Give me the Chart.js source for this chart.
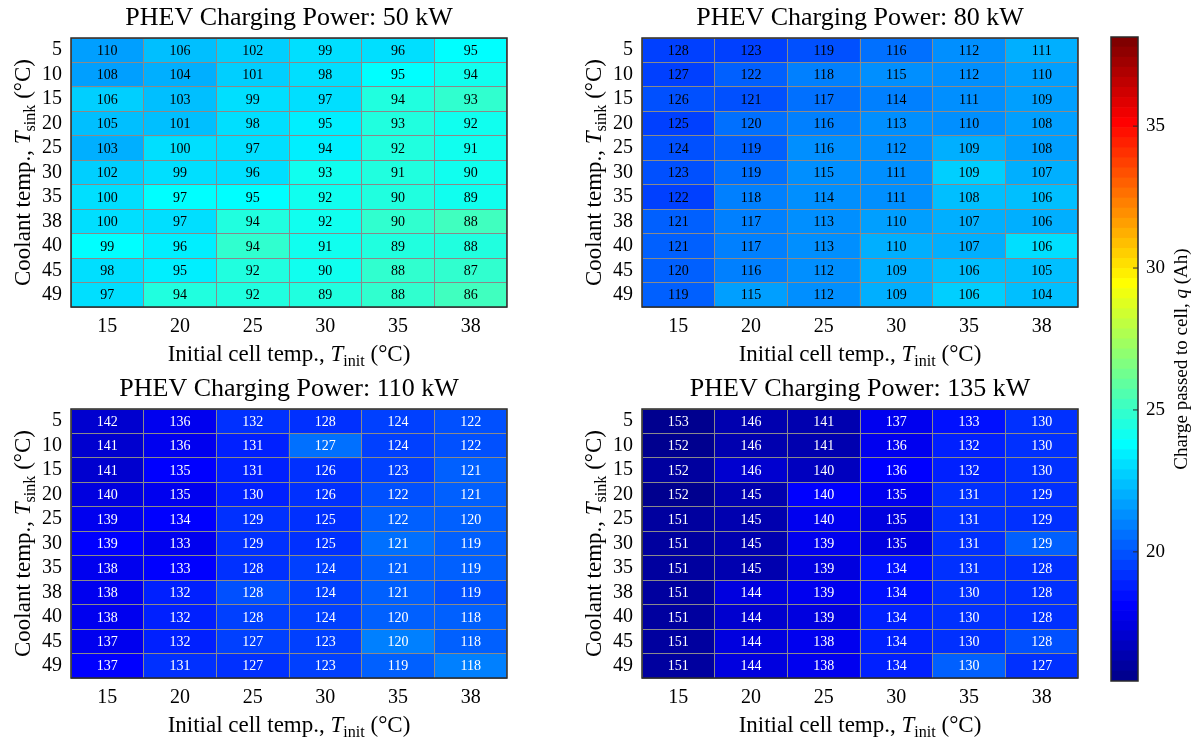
<!DOCTYPE html>
<html>
<head>
<meta charset="utf-8">
<script src="https://cdn.jsdelivr.net/npm/chart.js@4"></script>
<style>
  body { margin: 0; background: #fff; }
  #wrap { position: relative; width: 1199px; height: 739px; }
  #wrap canvas { position: absolute; left: 0; top: 0; }
</style>
</head>
<body>
<div id="wrap">
  <canvas id="c50" width="1199" height="739"></canvas>
  <canvas id="c80" width="1199" height="739"></canvas>
  <canvas id="c110" width="1199" height="739"></canvas>
  <canvas id="c135" width="1199" height="739"></canvas>
  <canvas id="cbar" width="1199" height="739"></canvas>
</div>
<script>
// axes
const initTemps = ['15', '20', '25', '30', '35', '38'];
const sinkTemps = ['5', '10', '15', '20', '25', '30', '35', '38', '40', '45', '49'];

// numbers printed in the cells
const num50 = [
  [110, 106, 102, 99, 96, 95], [108, 104, 101, 98, 95, 94], [106, 103, 99, 97, 94, 93],
  [105, 101, 98, 95, 93, 92], [103, 100, 97, 94, 92, 91], [102, 99, 96, 93, 91, 90],
  [100, 97, 95, 92, 90, 89], [100, 97, 94, 92, 90, 88], [99, 96, 94, 91, 89, 88],
  [98, 95, 92, 90, 88, 87], [97, 94, 92, 89, 88, 86]
];
const num80 = [
  [128, 123, 119, 116, 112, 111], [127, 122, 118, 115, 112, 110], [126, 121, 117, 114, 111, 109],
  [125, 120, 116, 113, 110, 108], [124, 119, 116, 112, 109, 108], [123, 119, 115, 111, 109, 107],
  [122, 118, 114, 111, 108, 106], [121, 117, 113, 110, 107, 106], [121, 117, 113, 110, 107, 106],
  [120, 116, 112, 109, 106, 105], [119, 115, 112, 109, 106, 104]
];
const num110 = [
  [142, 136, 132, 128, 124, 122], [141, 136, 131, 127, 124, 122], [141, 135, 131, 126, 123, 121],
  [140, 135, 130, 126, 122, 121], [139, 134, 129, 125, 122, 120], [139, 133, 129, 125, 121, 119],
  [138, 133, 128, 124, 121, 119], [138, 132, 128, 124, 121, 119], [138, 132, 128, 124, 120, 118],
  [137, 132, 127, 123, 120, 118], [137, 131, 127, 123, 119, 118]
];
const num135 = [
  [153, 146, 141, 137, 133, 130], [152, 146, 141, 136, 132, 130], [152, 146, 140, 136, 132, 130],
  [152, 145, 140, 135, 131, 129], [151, 145, 140, 135, 131, 129], [151, 145, 139, 135, 131, 129],
  [151, 145, 139, 134, 131, 128], [151, 144, 139, 134, 130, 128], [151, 144, 139, 134, 130, 128],
  [151, 144, 138, 134, 130, 128], [151, 144, 138, 134, 130, 127]
];

// charge passed to cell q (Ah), this is what the colour shows
const q50 = [
  [21.6, 22.5, 22.8, 22.9, 23.2, 23.8], [21.5, 22.1, 22.6, 22.9, 23.7, 24.2],
  [22.6, 22.2, 22.9, 23.1, 24.4, 24.9], [22.4, 22.2, 22.9, 23.4, 24.4, 24.3],
  [21.9, 23.0, 23.1, 23.4, 24.4, 24.1], [22.7, 23.0, 22.9, 24.3, 24.4, 24.3],
  [23.0, 23.7, 23.8, 24.3, 24.4, 24.3], [22.9, 22.9, 24.4, 24.3, 24.9, 25.1],
  [23.7, 23.3, 24.7, 24.2, 24.5, 24.5], [23.0, 23.5, 24.4, 24.3, 24.8, 24.8],
  [23.1, 24.4, 24.5, 24.4, 24.8, 25.1]
];
const q80 = [
  [19.4, 19.7, 19.9, 20.6, 21.2, 22.0], [19.5, 20.1, 21.0, 21.3, 21.4, 21.8],
  [19.9, 20.0, 20.7, 20.9, 21.2, 21.8], [19.6, 20.5, 20.8, 21.2, 21.4, 21.8],
  [19.9, 20.3, 21.3, 21.2, 21.9, 21.8], [19.9, 20.5, 21.2, 21.4, 22.6, 21.9],
  [19.7, 21.0, 21.2, 21.4, 22.2, 22.3], [20.3, 21.0, 21.2, 21.8, 22.1, 22.1],
  [20.4, 20.9, 21.2, 21.9, 22.0, 22.9], [20.4, 20.9, 21.2, 21.9, 22.3, 22.4],
  [20.1, 21.5, 21.2, 22.0, 22.7, 22.4]
];
const q110 = [
  [17.2, 17.7, 19.0, 19.2, 19.5, 19.9], [17.2, 17.9, 18.8, 20.6, 19.6, 20.0],
  [17.2, 18.0, 18.8, 19.2, 19.7, 20.1], [17.5, 17.9, 18.7, 19.1, 19.9, 20.4],
  [17.6, 18.0, 19.0, 19.3, 20.2, 20.3], [18.1, 17.8, 19.1, 19.3, 20.5, 20.3],
  [17.7, 18.1, 19.3, 19.5, 20.3, 20.2], [17.9, 18.8, 19.9, 19.5, 20.2, 20.0],
  [17.6, 18.7, 19.4, 19.5, 20.3, 20.3], [17.8, 18.7, 19.5, 19.6, 20.9, 20.4],
  [18.1, 19.1, 19.3, 19.5, 20.4, 20.8]
];
const q135 = [
  [15.6, 16.3, 16.4, 17.8, 18.5, 19.2], [15.8, 16.3, 16.5, 17.7, 18.7, 19.0],
  [15.9, 17.1, 16.7, 18.0, 18.8, 19.2], [15.45, 16.4, 18.1, 17.7, 19.2, 19.3],
  [16.1, 16.5, 17.8, 17.5, 19.2, 19.2], [16.1, 16.3, 17.7, 17.5, 19.0, 20.1],
  [15.9, 16.3, 17.5, 18.5, 19.0, 19.3], [15.9, 17.3, 17.6, 18.5, 19.1, 19.3],
  [15.9, 17.2, 17.5, 18.7, 19.1, 19.3], [16.1, 17.3, 17.9, 18.7, 19.1, 19.9],
  [15.9, 17.3, 17.8, 18.8, 20.1, 19.2]
];

// colour limits and colourbar ticks
const qMin = 15.45, qMax = 38.14;
const cbarTicks = [20, 25, 30, 35];
const nLevels = 64;

const W = 1199, H = 739;
const SERIF = '"Liberation Serif", "DejaVu Serif", serif';
const YW = 40, XH = 30;

// matlab jet(64)
function jet(k) {
  const i = k + 1;
  const b = i <= 8 ? 0.5625 + (i - 1) / 16 : i <= 24 ? 1 : i <= 40 ? 1 - (i - 24) / 16 : 0;
  const g = i <= 8 ? 0 : i <= 24 ? (i - 8) / 16 : i <= 40 ? 1 : i <= 56 ? 1 - (i - 40) / 16 : 0;
  const r = i <= 24 ? 0 : i <= 40 ? (i - 24) / 16 : i <= 56 ? 1 : 1 - (i - 56) / 16;
  return `rgb(${Math.round(r * 255)},${Math.round(g * 255)},${Math.round(b * 255)})`;
}
function qColor(q) {
  let k = Math.floor((q - qMin) / (qMax - qMin) * nLevels);
  k = Math.max(0, Math.min(nLevels - 1, k));
  return jet(k);
}

// label made of plain / italic / subscript parts
function drawParts(ctx, parts, size, x, y, rot) {
  ctx.save();
  ctx.translate(x, y);
  ctx.rotate(rot);
  ctx.fillStyle = '#000';
  ctx.textBaseline = 'alphabetic';
  ctx.textAlign = 'left';
  const fontOf = p => (p.it ? 'italic ' : '') + (p.sub ? size * 0.7 : size) + 'px ' + SERIF;
  const widths = parts.map(p => { ctx.font = fontOf(p); return ctx.measureText(p.t).width; });
  let cx = -widths.reduce((a, b) => a + b, 0) / 2;
  const base = size * 0.33;
  parts.forEach((p, i) => {
    ctx.font = fontOf(p);
    ctx.fillText(p.t, cx, base + (p.sub ? size * 0.22 : 0));
    cx += widths[i];
  });
  ctx.restore();
}

const xTitle = [{ t: 'Initial cell temp., ' }, { t: 'T', it: true }, { t: 'init', sub: true }, { t: ' (°C)' }];
const yTitle = [{ t: 'Coolant temp., ' }, { t: 'T', it: true }, { t: 'sink', sub: true }, { t: ' (°C)' }];

const panels = [
  { id: 'c50', kw: '50', nums: num50, q: q50, txt: '#000', box: { l: 71, r: 507, t: 38, b: 307 } },
  { id: 'c80', kw: '80', nums: num80, q: q80, txt: '#000', box: { l: 642, r: 1078, t: 38, b: 307 } },
  { id: 'c110', kw: '110', nums: num110, q: q110, txt: '#fff', box: { l: 71, r: 507, t: 409, b: 678 } },
  { id: 'c135', kw: '135', nums: num135, q: q135, txt: '#fff', box: { l: 642, r: 1078, t: 409, b: 678 } }
];

panels.forEach(p => {
  const decor = {
    id: 'decor' + p.kw,
    afterDatasetsDraw(chart) {
      const ctx = chart.ctx;
      ctx.save();
      ctx.font = '14px ' + SERIF;
      ctx.fillStyle = p.txt;
      ctx.textAlign = 'center';
      ctx.textBaseline = 'middle';
      chart.data.datasets.forEach((ds, i) => {
        chart.getDatasetMeta(i).data.forEach((bar, j) => {
          ctx.fillText(String(p.nums[i][j]), bar.x, (bar.y + bar.base) / 2 + 1);
        });
      });
      ctx.restore();
    },
    afterDraw(chart) {
      const ctx = chart.ctx;
      const a = chart.chartArea;
      ctx.save();
      ctx.strokeStyle = '#2a2a2a';
      ctx.lineWidth = 1.5;
      ctx.strokeRect(a.left, a.top, a.right - a.left, a.bottom - a.top);
      ctx.fillStyle = '#000';
      ctx.font = '26px ' + SERIF;
      ctx.textAlign = 'center';
      ctx.textBaseline = 'middle';
      ctx.fillText('PHEV Charging Power: ' + p.kw + ' kW', (a.left + a.right) / 2, a.top - 20);
      ctx.restore();
      drawParts(ctx, xTitle, 23, (a.left + a.right) / 2, a.bottom + 46, 0);
      drawParts(ctx, yTitle, 23, a.left - 49, (a.top + a.bottom) / 2, -Math.PI / 2);
    }
  };

  new Chart(document.getElementById(p.id), {
    type: 'bar',
    data: {
      labels: initTemps,
      datasets: sinkTemps.map((s, i) => ({
        label: s,
        data: initTemps.map(() => [i, i + 1]),
        backgroundColor: p.q[i].map(qColor),
        borderWidth: 0,
        grouped: false,
        barPercentage: 1,
        categoryPercentage: 1
      }))
    },
    options: {
      responsive: false,
      animation: false,
      events: [],
      layout: { padding: { left: p.box.l - YW, right: W - p.box.r, top: p.box.t, bottom: H - p.box.b - XH } },
      plugins: { legend: { display: false }, tooltip: { enabled: false } },
      scales: {
        x: {
          type: 'category',
          offset: true,
          grid: { offset: true, color: '#8a8a8a', lineWidth: 1, z: 1, drawTicks: false },
          border: { display: false },
          ticks: { color: '#000', font: { family: SERIF, size: 20 }, padding: 8, autoSkip: false, maxRotation: 0 },
          afterFit: s => { s.height = XH; }
        },
        y: {
          type: 'linear',
          min: 0, max: sinkTemps.length,
          reverse: true,
          grid: { color: '#8a8a8a', lineWidth: 1, z: 1, drawTicks: false },
          border: { display: false },
          ticks: { display: false, stepSize: 1 },
          afterFit: s => { s.width = 0; }
        },
        yl: {
          type: 'linear',
          position: 'left',
          min: 0, max: sinkTemps.length,
          reverse: true,
          grid: { display: false, drawTicks: false },
          border: { display: false },
          afterBuildTicks: s => { s.ticks = sinkTemps.map((_, i) => ({ value: i + 0.5 })); },
          ticks: {
            color: '#000', font: { family: SERIF, size: 20, lineHeight: 1 }, padding: 9,
            autoSkip: false,
            callback: (v, i) => sinkTemps[i]
          },
          afterFit: s => { s.width = YW; }
        }
      }
    },
    plugins: [decor]
  });
});

// colourbar
const cbarBox = { l: 1111, r: 1138, t: 37, b: 681 };
const CBW = 50;
const levels = Array.from({ length: nLevels }, (_, k) => k);

new Chart(document.getElementById('cbar'), {
  type: 'bar',
  data: {
    labels: ['q'],
    datasets: levels.map(k => ({
      data: [[qMin + k * (qMax - qMin) / nLevels, qMin + (k + 1) * (qMax - qMin) / nLevels]],
      backgroundColor: jet(k),
      borderWidth: 0,
      grouped: false,
      barPercentage: 1,
      categoryPercentage: 1
    }))
  },
  options: {
    responsive: false,
    animation: false,
    events: [],
    layout: { padding: { left: cbarBox.l, right: W - cbarBox.r - CBW, top: cbarBox.t, bottom: H - cbarBox.b } },
    plugins: { legend: { display: false }, tooltip: { enabled: false } },
    scales: {
      x: { display: false },
      y: {
        position: 'right',
        min: qMin, max: qMax,
        grid: { display: false, drawTicks: false },
        border: { display: false },
        afterBuildTicks: s => { s.ticks = cbarTicks.map(v => ({ value: v })); },
        ticks: { color: '#000', font: { family: SERIF, size: 19 }, padding: 8, autoSkip: false },
        afterFit: s => { s.width = CBW; }
      }
    }
  },
  plugins: [{
    id: 'cbarDecor',
    afterDraw(chart) {
      const ctx = chart.ctx;
      const a = chart.chartArea;
      const ys = chart.scales.y;
      ctx.save();
      ctx.strokeStyle = '#2a2a2a';
      ctx.lineWidth = 1.5;
      ctx.strokeRect(a.left, a.top, a.right - a.left, a.bottom - a.top);
      ctx.lineWidth = 1;
      cbarTicks.forEach(v => {
        const y = ys.getPixelForValue(v);
        ctx.beginPath();
        ctx.moveTo(a.right, y);
        ctx.lineTo(a.right - 5, y);
        ctx.stroke();
      });
      ctx.restore();
      drawParts(ctx, [{ t: 'Charge passed to cell, ' }, { t: 'q', it: true }, { t: ' (Ah)' }],
        19, 1181, (a.top + a.bottom) / 2, -Math.PI / 2);
    }
  }]
});
</script>
</body>
</html>
